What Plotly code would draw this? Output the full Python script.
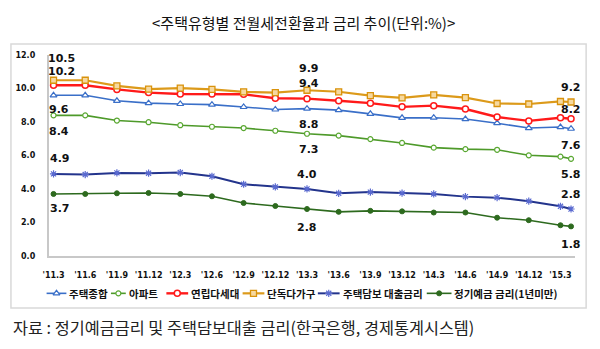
import plotly.graph_objects as go

# ---- data ----
months = [0, 3, 6, 9, 12, 15, 18, 21, 24, 27, 30, 33, 36, 39, 42, 45, 48, 49]
tick_vals = [0, 3, 6, 9, 12, 15, 18, 21, 24, 27, 30, 33, 36, 39, 42, 45, 48]
tick_text = ["'11.3", "'11.6", "'11.9", "'11.12", "'12.3", "'12.6", "'12.9", "'12.12",
             "'13.3", "'13.6", "'13.9", "'13.12", "'14.3", "'14.6", "'14.9", "'14.12", "'15.3"]

house_all = [9.6, 9.6, 9.27, 9.13, 9.08, 9.04, 8.9, 8.75, 8.8, 8.71, 8.49, 8.25, 8.26, 8.18, 7.93, 7.64, 7.7, 7.6]
apartment = [8.4, 8.4, 8.09, 7.99, 7.81, 7.72, 7.64, 7.48, 7.3, 7.19, 6.98, 6.75, 6.47, 6.38, 6.34, 6.01, 5.93, 5.8]
multi_family = [10.2, 10.2, 9.95, 9.76, 9.68, 9.68, 9.66, 9.42, 9.4, 9.27, 9.13, 8.91, 8.98, 8.78, 8.3, 8.07, 8.26, 8.2]
detached = [10.5, 10.5, 10.16, 9.97, 10.03, 9.95, 9.81, 9.76, 9.9, 9.81, 9.58, 9.44, 9.62, 9.46, 9.11, 9.08, 9.23, 9.2]
mortgage_rate = [4.9, 4.86, 4.96, 4.94, 4.98, 4.76, 4.28, 4.12, 4.0, 3.74, 3.81, 3.75, 3.7, 3.54, 3.48, 3.27, 2.96, 2.8]
deposit_rate = [3.7, 3.7, 3.74, 3.76, 3.7, 3.56, 3.16, 2.98, 2.8, 2.63, 2.69, 2.66, 2.59, 2.59, 2.28, 2.13, 1.83, 1.76]

names = ["주택종합", "아파트", "연립다세대", "단독다가구", "주택담보 대출금리", "정기예금 금리(1년미만)"]
label_idx = [0, 8, 17]

# ---- styles ----
series = [
    (house_all, dict(color="#3a6fc8", width=1.6), dict(symbol="triangle-up", size=6, color="white", line=dict(color="#3a6fc8", width=1.2)),
     [(5, -14), (2, -16), (0, -17)]),
    (apartment, dict(color="#4e9a2a", width=1.6), dict(symbol="circle", size=5, color="white", line=dict(color="#5aa832", width=1.2)),
     [(5, -16), (2, -16), (0, -16)]),
    (multi_family, dict(color="#ff1a1a", width=2.4), dict(symbol="circle", size=6, color="white", line=dict(color="#ff1a1a", width=1.5)),
     [(8, 14), (2, 15), (0, 9)]),
    (detached, dict(color="#dc9a1a", width=2.2), dict(symbol="square", size=6, color="#f6d9a0", line=dict(color="#d9930c", width=1.3)),
     [(8, 22), (2, 22), (0, 14)]),
    (mortgage_rate, dict(color="#23348c", width=2.0), dict(symbol="asterisk", size=6, color="#23348c", line=dict(color="#5a6ad0", width=1.2)),
     [(6, 15), (0, 14), (0, 15)]),
    (deposit_rate, dict(color="#2d6a1e", width=1.6), dict(symbol="circle", size=5, color="#2d6a1e", line=dict(color="#2d6a1e", width=1)),
     [(6, -15), (0, -18), (0, -18)]),
]

W, H = 600, 349
PL, PR, PT, PB = 43, 575, 52.5, 258.5   # plot area in pixels

def fx(px):
    return px / W

def fy(py):
    return 1 - py / H

legend_lines = [(41, 61), (106, 121), (162, 184), (239, 261), (315, 337), (425, 450)]
legend_y = 297

fig = go.Figure()
annotations = []
for (vals, line, marker, offs), name, (lx0, lx1) in zip(series, names, legend_lines):
    fig.add_trace(go.Scatter(x=months, y=vals, mode="lines+markers", name=name,
                             line=line, marker=marker, showlegend=False))
    for i, (dx, dy) in zip(label_idx, offs):
        annotations.append(dict(x=months[i], y=vals[i], xref="x", yref="y",
                                text=f"{vals[i]:.1f}", showarrow=False,
                                xshift=dx, yshift=dy,
                                font=dict(family="DejaVu Sans", size=11, color="#111", weight="bold")))
    # custom legend entry
    fig.add_trace(go.Scatter(x=[lx0, lx1], y=[legend_y, legend_y], mode="lines", line=line,
                             xaxis="x2", yaxis="y2", showlegend=False, hoverinfo="skip"))
    fig.add_trace(go.Scatter(x=[(lx0 + lx1) / 2], y=[legend_y], mode="markers", marker=marker,
                             xaxis="x2", yaxis="y2", showlegend=False, hoverinfo="skip"))
    annotations.append(dict(x=fx(lx1 + 1), y=fy(legend_y), xref="paper", yref="paper",
                            xanchor="left", yanchor="middle", showarrow=False, text=name,
                            font=dict(family="Noto Sans CJK KR", size=10.5, color="#111", weight="bold")))

annotations.append(dict(x=0.5, y=fy(19), xref="paper", yref="paper",
                        xanchor="center", yanchor="middle", showarrow=False,
                        text="<주택유형별 전월세전환율과 금리 추이(단위:%)>",
                        font=dict(family="Noto Sans CJK KR", size=15, color="#111")))
annotations.append(dict(x=fx(5), y=fy(332), xref="paper", yref="paper",
                        xanchor="left", yanchor="middle", showarrow=False,
                        text="자료 : 정기예금금리 및 주택담보대출 금리(한국은행, 경제통계시스템)",
                        font=dict(family="Noto Sans CJK KR", size=16.3, color="#222")))

fig.update_layout(
    width=W, height=H,
    margin=dict(l=0, r=0, t=0, b=0),
    paper_bgcolor="white", plot_bgcolor="rgba(0,0,0,0)",
    showlegend=False,
    annotations=annotations,
    shapes=[dict(type="rect", xref="paper", yref="paper",
                 x0=fx(5), x1=fx(586), y0=fy(312), y1=fy(41),
                 line=dict(color="#d9d9d9", width=1.5), layer="below")],
    xaxis2=dict(domain=[0, 1], range=[0, W], visible=False, anchor="y2", fixedrange=True),
    yaxis2=dict(domain=[0, 1], range=[H, 0], visible=False, anchor="x2", fixedrange=True),
)
fig.layout.xaxis.update(domain=[fx(PL), fx(PR)], range=[-0.47, 49.4], tickmode="array",
                        tickvals=tick_vals, ticktext=tick_text,
                        showgrid=False, zeroline=False, showline=True, linecolor="#c8c8c8", linewidth=1.5,
                        ticks="", ticklabelstandoff=11,
                        tickfont=dict(family="DejaVu Sans", size=8, color="#111", weight="bold"))
fig.layout.yaxis.update(domain=[fy(PB), fy(PT)], range=[0, 12], tickvals=[0, 2, 4, 6, 8, 10, 12],
                        tickformat=".1f",
                        showgrid=False, zeroline=False, showline=True, linecolor="#c8c8c8", linewidth=1.5,
                        ticks="", ticklabelstandoff=10,
                        tickfont=dict(family="DejaVu Sans", size=8, color="#111", weight="bold"))

fig.write_html("out.html")
